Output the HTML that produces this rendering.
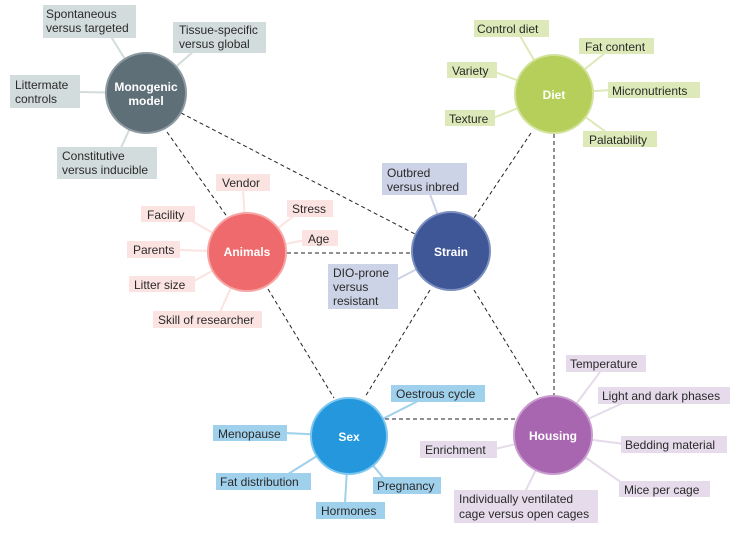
<!DOCTYPE html>
<html><head><meta charset="utf-8"><style>
html,body{margin:0;padding:0;background:#fff;}
svg{display:block;}
text{font-family:"Liberation Sans",sans-serif;font-size:12px;fill:#2a2a2a;}
.w{fill:#fff;font-weight:bold;text-anchor:middle;font-size:12px;}
.d{stroke:#222;stroke-width:1;stroke-dasharray:4,3;fill:none;}
</style></head><body>
<svg width="753" height="533" viewBox="0 0 753 533" xmlns="http://www.w3.org/2000/svg">
<!-- dashed connectors -->
<line class="d" x1="167" y1="132" x2="228" y2="218"/>
<line class="d" x1="181" y1="113" x2="415" y2="234"/>
<line class="d" x1="287" y1="253" x2="411" y2="253"/>
<line class="d" x1="531" y1="133" x2="474" y2="218"/>
<line class="d" x1="554" y1="134" x2="554" y2="395"/>
<line class="d" x1="268" y1="289" x2="334" y2="398"/>
<line class="d" x1="430" y1="290" x2="365" y2="397"/>
<line class="d" x1="474" y1="290" x2="540" y2="398"/>
<line class="d" x1="378" y1="419" x2="517" y2="419"/>

<!-- spokes -->
<g stroke-width="2" fill="none">
<g stroke="#d3dcdc">
<line x1="146" y1="93" x2="110" y2="35"/><line x1="146" y1="93" x2="195" y2="50"/>
<line x1="146" y1="93" x2="78" y2="92"/><line x1="146" y1="93" x2="120" y2="150"/>
</g>
<g stroke="#fbe3e1">
<line x1="247" y1="252" x2="243" y2="190"/><line x1="247" y1="252" x2="190" y2="220"/>
<line x1="247" y1="252" x2="295" y2="215"/><line x1="247" y1="252" x2="305" y2="240"/>
<line x1="247" y1="252" x2="178" y2="250"/><line x1="247" y1="252" x2="192" y2="282"/>
<line x1="247" y1="252" x2="220" y2="312"/>
</g>
<g stroke="#cdd3e6">
<line x1="451" y1="251" x2="430" y2="194"/><line x1="451" y1="251" x2="396" y2="280"/>
</g>
<g stroke="#dde9b8">
<line x1="554" y1="94" x2="520" y2="36"/><line x1="554" y1="94" x2="605" y2="53"/>
<line x1="554" y1="94" x2="495" y2="72"/><line x1="554" y1="94" x2="610" y2="90"/>
<line x1="554" y1="94" x2="493" y2="118"/><line x1="554" y1="94" x2="610" y2="135"/>
</g>
<g stroke="#9fd0ec">
<line x1="349" y1="436" x2="420" y2="400"/><line x1="349" y1="436" x2="285" y2="433"/>
<line x1="349" y1="436" x2="285" y2="476"/><line x1="349" y1="436" x2="385" y2="480"/>
<line x1="349" y1="436" x2="345" y2="503"/>
</g>
<g stroke="#e5dbeb">
<line x1="553" y1="435" x2="600" y2="372"/><line x1="553" y1="435" x2="625" y2="402"/>
<line x1="553" y1="435" x2="625" y2="444"/><line x1="553" y1="435" x2="625" y2="485"/>
<line x1="553" y1="435" x2="495" y2="449"/><line x1="553" y1="435" x2="525" y2="492"/>
</g>
</g>

<!-- circles -->
<circle cx="146" cy="93" r="40" fill="#5f6f78" stroke="#8d9aa1" stroke-width="2"/>
<circle cx="247" cy="252" r="39" fill="#ef6a6c" stroke="#f6a5a3" stroke-width="2"/>
<circle cx="451" cy="251" r="39" fill="#3f5796" stroke="#7d8fbf" stroke-width="2"/>
<circle cx="554" cy="94" r="39" fill="#b5cf5a" stroke="#d2e29a" stroke-width="2"/>
<circle cx="349" cy="436" r="38" fill="#2597dc" stroke="#7cc5ee" stroke-width="2"/>
<circle cx="553" cy="435" r="39" fill="#a866b0" stroke="#c99ccf" stroke-width="2"/>
<text class="w" x="146" y="91">Monogenic</text><text class="w" x="146" y="105">model</text>
<text class="w" x="247" y="256">Animals</text>
<text class="w" x="451" y="256">Strain</text>
<text class="w" x="554" y="99">Diet</text>
<text class="w" x="349" y="441">Sex</text>
<text class="w" x="553" y="440">Housing</text>

<!-- monogenic labels -->
<g fill="#d3dcdc">
<rect x="43" y="5" width="93" height="33"/><rect x="173" y="22" width="93" height="31"/>
<rect x="10" y="75" width="70" height="33"/><rect x="57" y="147" width="100" height="32"/>
</g>
<text x="46" y="18">Spontaneous</text><text x="46" y="32">versus targeted</text>
<text x="179" y="34">Tissue-specific</text><text x="179" y="48">versus global</text>
<text x="15" y="89">Littermate</text><text x="15" y="103">controls</text>
<text x="62" y="160">Constitutive</text><text x="62" y="174">versus inducible</text>

<!-- animals labels -->
<g fill="#fbe3e1">
<rect x="216" y="174" width="54" height="17"/><rect x="141" y="206" width="54" height="16"/>
<rect x="287" y="200" width="46" height="17"/><rect x="302" y="230" width="36" height="16"/>
<rect x="127" y="241" width="53" height="17"/><rect x="129" y="276" width="66" height="16"/>
<rect x="153" y="311" width="109" height="17"/>
</g>
<text x="222" y="187">Vendor</text><text x="147" y="219">Facility</text>
<text x="292" y="213">Stress</text><text x="308" y="243">Age</text>
<text x="133" y="254">Parents</text><text x="134" y="289">Litter size</text>
<text x="158" y="324">Skill of researcher</text>

<!-- strain labels -->
<g fill="#cdd3e6">
<rect x="382" y="163" width="85" height="32"/><rect x="328" y="264" width="70" height="45"/>
</g>
<text x="387" y="177">Outbred</text><text x="387" y="191">versus inbred</text>
<text x="333" y="277">DIO-prone</text><text x="333" y="291">versus</text><text x="333" y="305">resistant</text>

<!-- diet labels -->
<g fill="#dde9b8">
<rect x="474" y="20" width="75" height="17"/><rect x="579" y="38" width="75" height="16"/>
<rect x="447" y="62" width="50" height="16"/><rect x="608" y="82" width="92" height="16"/>
<rect x="445" y="110" width="50" height="16"/><rect x="583" y="131" width="74" height="16"/>
</g>
<text x="477" y="33">Control diet</text><text x="585" y="51">Fat content</text>
<text x="452" y="75">Variety</text><text x="612" y="95">Micronutrients</text>
<text x="449" y="123">Texture</text><text x="589" y="144">Palatability</text>

<!-- sex labels -->
<g fill="#9fd0ec">
<rect x="391" y="385" width="94" height="17"/><rect x="213" y="425" width="74" height="16"/>
<rect x="216" y="473" width="95" height="17"/><rect x="373" y="477" width="68" height="17"/>
<rect x="316" y="502" width="69" height="17"/>
</g>
<text x="396" y="398">Oestrous cycle</text><text x="218" y="438">Menopause</text>
<text x="220" y="486">Fat distribution</text><text x="377" y="490">Pregnancy</text>
<text x="321" y="515">Hormones</text>

<!-- housing labels -->
<g fill="#e5dbeb">
<rect x="566" y="355" width="80" height="17"/><rect x="598" y="387" width="132" height="17"/>
<rect x="621" y="436" width="106" height="17"/><rect x="619" y="481" width="91" height="16"/>
<rect x="420" y="441" width="77" height="17"/><rect x="454" y="490" width="144" height="33"/>
</g>
<text x="570" y="368">Temperature</text><text x="602" y="400">Light and dark phases</text>
<text x="625" y="449">Bedding material</text><text x="624" y="494">Mice per cage</text>
<text x="425" y="454">Enrichment</text>
<text x="459" y="503">Individually ventilated</text><text x="459" y="518">cage versus open cages</text>
</svg>
</body></html>
